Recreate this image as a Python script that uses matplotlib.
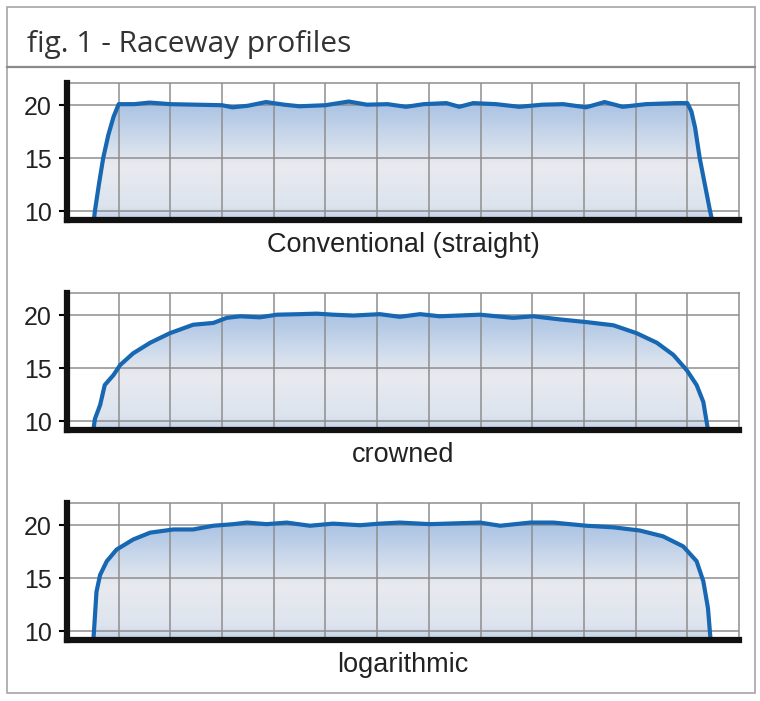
import numpy as np
from matplotlib import pyplot as plt
from matplotlib.colors import LinearSegmentedColormap
from matplotlib.patches import Rectangle
from matplotlib.lines import Line2D

# raceway profiles, x in grid units, y in profile height
x_conv = [0.52, 0.54, 0.62, 0.70, 0.80, 0.90, 1.00, 1.3, 1.6, 2.0, 2.5, 3.0, 3.2, 3.5, 3.85, 4.2, 4.5,
          5.0, 5.45, 5.8, 6.2, 6.56, 6.9, 7.34, 7.59, 7.86, 8.3, 8.75, 9.2, 9.6, 10.04, 10.4, 10.75,
          11.2, 11.8, 12.0, 12.08, 12.15, 12.24, 12.34, 12.44, 12.48]
y_conv = [9.15, 10.0, 12.6, 15.0, 17.2, 18.9, 20.1, 20.1, 20.25, 20.1, 20.05, 20.0, 19.8, 19.95, 20.3, 20.05, 19.9,
          20.0, 20.35, 20.05, 20.1, 19.85, 20.1, 20.2, 19.85, 20.2, 20.1, 19.85, 20.05, 20.1, 19.8, 20.3, 19.85,
          20.1, 20.2, 20.2, 19.4, 17.9, 15.0, 12.5, 10.0, 9.15]

x_crown = [0.51, 0.54, 0.64, 0.73, 0.90, 1.03, 1.28, 1.61, 1.99, 2.44, 2.83, 3.09, 3.35, 3.73, 4.06, 4.5,
           4.83, 5.15, 5.54, 6.05, 6.44, 6.83, 7.21, 7.99, 8.63, 9.02, 9.54, 10.05, 10.57, 11.02, 11.41,
           11.73, 11.99, 12.18, 12.31, 12.4]
y_crown = [9.15, 10.2, 11.5, 13.4, 14.35, 15.3, 16.4, 17.4, 18.3, 19.1, 19.27, 19.75, 19.9, 19.8, 20.05, 20.1,
           20.15, 20.05, 19.97, 20.1, 19.85, 20.1, 19.9, 20.05, 19.75, 19.9, 19.6, 19.35, 19.05, 18.3, 17.4,
           16.25, 14.8, 13.4, 11.8, 9.15]

x_log = [0.51, 0.53, 0.57, 0.64, 0.77, 0.96, 1.28, 1.61, 2.06, 2.44, 2.83, 3.22, 3.48, 3.86, 4.25, 4.7,
         5.15, 5.67, 6.05, 6.44, 7.02, 7.99, 8.38, 8.96, 9.41, 10.05, 10.57, 11.08, 11.53, 11.92, 12.18,
         12.31, 12.4, 12.45]
y_log = [9.15, 10.6, 13.7, 15.3, 16.6, 17.7, 18.65, 19.3, 19.6, 19.6, 19.95, 20.1, 20.25, 20.1, 20.25, 19.95,
         20.15, 20.0, 20.15, 20.25, 20.1, 20.25, 19.95, 20.25, 20.25, 19.95, 19.8, 19.5, 18.95, 18.0, 16.6,
         14.7, 12.15, 9.15]

labels = ['Conventional (straight)', 'crowned', 'logarithmic']
yticks = [10, 15, 20]
title = 'fig. 1 - Raceway profiles'

W, H = 760, 701
fig = plt.figure(figsize=(W / 100, H / 100), dpi=100)

# outer box and header
fig.add_artist(Rectangle((7 / W, 1 - 693 / H), 748 / W, 686 / H, transform=fig.transFigure,
                         facecolor='none', edgecolor='#a6a6a6', lw=1.2))
fig.add_artist(Line2D([7 / W, 755 / W], [1 - 67 / H, 1 - 67 / H], transform=fig.transFigure,
                      color='#8a8a8a', lw=1.6))
fig.text(27 / W, 1 - 52 / H, title, fontsize=21.5, family='Open Sans', color='#333333', va='baseline')

cmap = LinearSegmentedColormap.from_list('fill', [
    (0.0, '#c3d3ea'), (0.12, '#dde4ee'), (0.45, '#e8eaef'), (0.7, '#cad8eb'), (1.0, '#a6c0e2')])

tops = [83, 293, 503]
data = [(x_conv, y_conv), (x_crown, y_crown), (x_log, y_log)]
ymin, ymax = 9.15, 22.1
for top, (x, y), lab in zip(tops, data, labels):
    ax = fig.add_axes([67 / W, 1 - (top + 137) / H, 672 / W, 137 / H])
    ax.set_xlim(0, 13)
    ax.set_ylim(ymin, ymax)

    poly = ax.fill_between(x, y, ymin, facecolor='none', edgecolor='none')
    grad = np.linspace(0, 1, 256).reshape(-1, 1)
    im = ax.imshow(grad, cmap=cmap, origin='lower', aspect='auto',
                   extent=[0, 13, ymin, 20.4], zorder=0.5)
    im.set_clip_path(poly.get_paths()[0], transform=ax.transData)

    for gx in range(1, 13):
        ax.axvline(gx, color='#8e8e8e', lw=1.1, zorder=1)
    for gy in yticks:
        ax.axhline(gy, color='#8e8e8e', lw=1.1, zorder=1)
    ax.plot(x, y, color='#1767b3', lw=3.0, zorder=3, solid_joinstyle='round')

    ax.set_xticks([])
    ax.set_yticks(yticks)
    ax.tick_params(axis='y', length=6, width=1.5, pad=5, labelsize=18, labelcolor='#222222')
    for lbl in ax.get_yticklabels():
        lbl.set_family('Liberation Sans')
    ax.spines['left'].set_linewidth(4.5)
    ax.spines['bottom'].set_linewidth(4.5)
    ax.spines['left'].set_color('#111111')
    ax.spines['bottom'].set_color('#111111')
    ax.spines['top'].set_color('#8e8e8e')
    ax.spines['right'].set_color('#8e8e8e')
    ax.spines['top'].set_linewidth(1.1)
    ax.spines['right'].set_linewidth(1.1)
    ax.spines['left'].set_zorder(4)
    ax.spines['bottom'].set_zorder(4)

    fig.text(403 / W, 1 - (top + 137 + 25) / H, lab, ha='center', va='center',
             fontsize=19.5, family='Liberation Sans', color='#222222')

fig.savefig('out.png', dpi=100)
